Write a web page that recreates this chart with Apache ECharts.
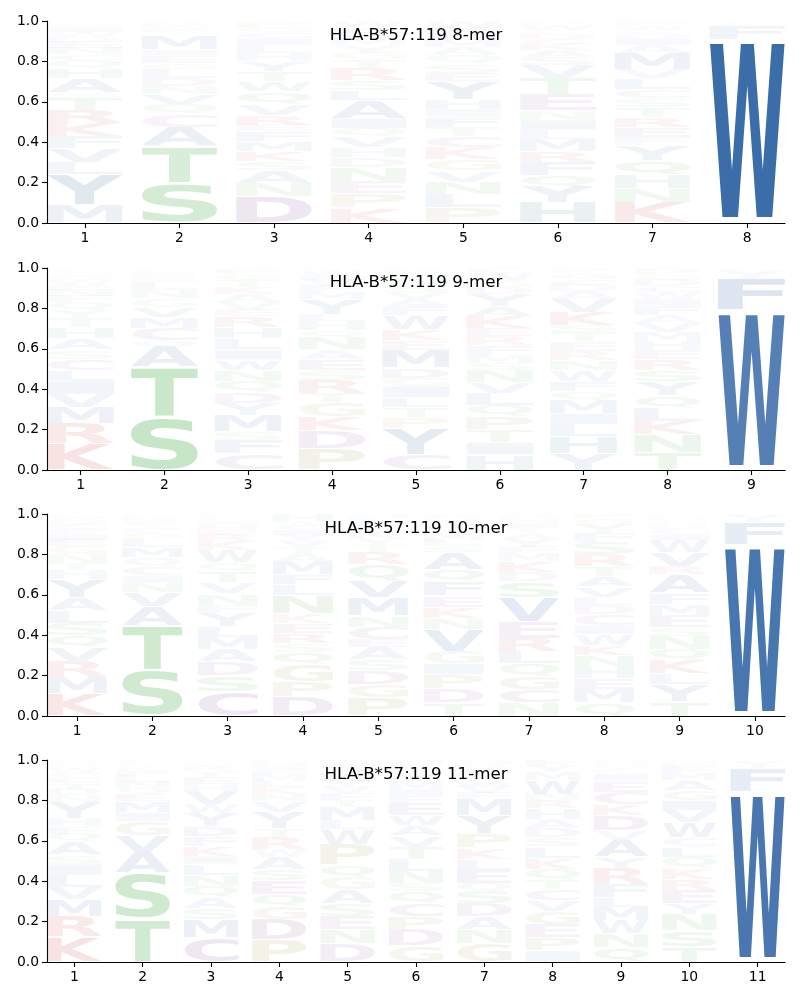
<!DOCTYPE html>
<html><head><meta charset="utf-8">
<script src="https://cdn.jsdelivr.net/npm/echarts@6/dist/echarts.min.js"></script>
<style>html,body{margin:0;padding:0;background:#fff}#chart{width:800px;height:1000px}</style>
</head><body><div id="chart"></div>
<script>
// ---------- DATA ----------
const titles = ["HLA-B*57:119 8-mer", "HLA-B*57:119 9-mer", "HLA-B*57:119 10-mer", "HLA-B*57:119 11-mer"];
const yTicks = [0, 0.2, 0.4, 0.6, 0.8, 1.0];

const positions8 = [1, 2, 3, 4, 5, 6, 7, 8];
const letters8 = ["MYLVFKRTSAHQCNEDWIGP", "STACQVNDLGEIMYFWKRHP", "DNASKMFERVQWTYHLICGP", "KPENDHVQIALSRTGYMFCW",
                  "PLNVGKCTFIHYESQAMDRW", "HYQFRMLINETVSAKCDGWP", "KNHQYFERTSCLVMAIDGWP", "WFYL"];
const probs8 = [
  [.09, .15, .06, .07, .06, .065, .065, .06, .025, .07, .05, .04, .03, .03, .03, .025, .025, .025, .02, .01],
  [.2, .18, .095, .063, .05, .05, .04, .04, .045, .03, .035, .03, .07, .015, .015, .012, .01, .01, .005, .005],
  [.13, .065, .065, .045, .05, .05, .05, .03, .05, .055, .06, .05, .05, .05, .04, .04, .035, .03, .025, .03],
  [.075, .07, .063, .07, .045, .05, .055, .04, .05, .09, .05, .05, .06, .04, .035, .035, .03, .03, .03, .032],
  [.075, .065, .063, .055, .055, .06, .055, .045, .05, .04, .05, .09, .04, .045, .04, .04, .035, .03, .032, .035],
  [.10, .08, .055, .065, .055, .06, .045, .05, .045, .08, .08, .065, .04, .035, .03, .025, .025, .02, .025, .02],
  [.10, .07, .07, .07, .075, .04, .05, .05, .05, .04, .045, .055, .045, .08, .04, .035, .02, .02, .02, .025],
  [.91, .07, .015, .005]
];

const positions9 = [1, 2, 3, 4, 5, 6, 7, 8, 9];
const letters9 = ["KRMVILCSAHTYQFNEWDGP", "STAQCMVGNLIFEYKRD", "CFSMYDQNWILHREVAKTGP", "PDKGTRSEANQHLYMFVIWC",
                  "CYPTLIGDMEKWFAVSNQRH", "HITPQLVNSMFREKAYDGWC", "YHLIMQFWNRETSKVADCGP", "TNKLQYSREHMVAFIWCDGP", "WFYLM"];
const probs9 = [
  [.13, .1, .08, .065, .065, .055, .055, .045, .055, .055, .045, .04, .04, .03, .03, .025, .025, .02, .02, .02],
  [.26, .25, .1, .03, .06, .055, .05, .045, .04, .04, .02, .015, .01, .01, .005, .005, .005],
  [.08, .065, .045, .08, .06, .055, .055, .055, .05, .05, .055, .055, .055, .03, .04, .04, .035, .035, .03, .03],
  [.105, .09, .07, .07, .045, .065, .05, .055, .045, .06, .035, .045, .035, .075, .035, .03, .03, .025, .025, .01],
  [.075, .13, .055, .05, .05, .055, .04, .05, .09, .045, .055, .07, .045, .035, .035, .035, .03, .025, .02, .01],
  [.075, .06, .065, .065, .055, .06, .055, .06, .035, .04, .045, .045, .04, .06, .05, .06, .035, .03, .04, .025],
  [.08, .085, .06, .055, .065, .045, .05, .055, .05, .045, .045, .045, .035, .065, .065, .04, .03, .03, .03, .025],
  [.085, .09, .068, .065, .06, .07, .055, .055, .045, .045, .045, .045, .04, .045, .035, .03, .03, .03, .025, .037],
  [.79, .155, .04, .01, .005]
];

const positions10 = [1, 2, 3, 4, 5, 6, 7, 8, 9, 10];
const letters10 = ["KMRVQSLAYHTNGEIFCDWP", "STAVNICQMLGFYEDKRH", "CSDAMLYFNVTQWKREHIGP", "DPGQSREKNLFMATVYICWH",
                   "PGDSAECNMVQRTYKLIFHW", "TDPIGVNKEFQASLMYRCHW", "NCGQLREVSDKMFYATIHPW", "QMEHNKWICDLVATRSFYGP",
                   "TYLKQNSEMFARVWICDGHP", "WFYL"];
const probs10 = [
  [.11, .08, .08, .07, .06, .06, .06, .065, .09, .045, .035, .045, .04, .03, .03, .025, .025, .02, .02, .01],
  [.225, .22, .095, .07, .05, .035, .045, .045, .05, .045, .03, .02, .02, .015, .01, .01, .008, .007],
  [.12, .08, .07, .06, .06, .055, .065, .04, .055, .055, .055, .045, .06, .045, .03, .025, .025, .02, .015, .02],
  [.095, .075, .085, .06, .045, .05, .05, .045, .09, .055, .05, .065, .035, .035, .03, .03, .025, .025, .02, .035],
  [.09, .065, .07, .055, .06, .04, .06, .055, .09, .085, .08, .06, .035, .035, .03, .03, .025, .02, .01, .005],
  [.065, .07, .07, .055, .06, .11, .055, .055, .055, .07, .06, .085, .03, .03, .03, .025, .025, .02, .015, .015],
  [.065, .065, .065, .065, .06, .065, .08, .12, .08, .045, .055, .04, .03, .04, .03, .025, .025, .02, .02, .015],
  [.065, .065, .055, .06, .055, .05, .055, .045, .055, .045, .04, .05, .05, .05, .06, .06, .045, .045, .03, .03],
  [.07, .085, .055, .065, .055, .065, .045, .06, .055, .055, .09, .04, .07, .06, .03, .025, .02, .02, .015, .02],
  [.85, .11, .03, .01]
];

const positions11 = [1, 2, 3, 4, 5, 6, 7, 8, 9, 10, 11];
const letters11 = ["KRMVLISAQFHYNDTECWGP", "TSAVGIMEQNLFKYRCD", "CMSAQNLIKFDYWVHETRGP", "PDGQESAWRTYVNKLMFIHC",
                   "DNESAGQPWLMTFVYKIRHC", "GDPCQSNLTVAWEFIMYKRH", "GNADSQELKPYMFVIWTCRH", "IPEGVCTQKLSDAHRNWMYF",
                   "QNWMLFRYAVDKCEISTGHP", "TSNYERKQLCWVIGAMFDHP", "WFYL"];
const probs11 = [
  [.125, .1, .085, .06, .06, .055, .045, .065, .04, .035, .04, .08, .035, .03, .03, .025, .025, .025, .02, .02],
  [.215, .225, .1, .085, .07, .045, .055, .035, .03, .03, .03, .025, .02, .015, .005, .01, .005],
  [.12, .09, .055, .055, .055, .055, .055, .04, .05, .045, .05, .065, .045, .065, .035, .035, .03, .025, .02, .01],
  [.11, .1, .065, .06, .07, .055, .06, .04, .06, .04, .08, .055, .035, .035, .03, .03, .025, .02, .02, .01],
  [.09, .07, .065, .065, .07, .06, .06, .1, .075, .045, .065, .035, .035, .03, .03, .03, .025, .02, .015, .015],
  [.08, .08, .065, .065, .06, .04, .06, .06, .06, .055, .05, .05, .06, .035, .035, .04, .04, .025, .02, .02],
  [.09, .07, .065, .065, .06, .04, .065, .055, .055, .07, .09, .08, .03, .03, .025, .025, .025, .02, .02, .02],
  [.055, .065, .065, .065, .055, .055, .045, .055, .055, .055, .045, .045, .045, .055, .04, .03, .07, .04, .03, .03],
  [.07, .07, .065, .065, .05, .065, .08, .055, .085, .045, .075, .055, .06, .055, .035, .02, .015, .015, .01, .01],
  [.075, .08, .08, .055, .065, .055, .055, .055, .05, .045, .075, .06, .05, .05, .05, .035, .03, .015, .01, .01],
  [.845, .115, .035, .005]
];

// ---------- STYLE ----------
const colorOf = {
  A: [40, 94, 161], V: [40, 94, 161], L: [40, 94, 161], I: [40, 94, 161], M: [40, 94, 161], F: [40, 94, 161], W: [40, 94, 161],
  Y: [45, 105, 150],
  S: [40, 160, 40], T: [40, 160, 40], N: [40, 160, 40], Q: [40, 160, 40],
  K: [200, 35, 35], R: [200, 35, 35],
  D: [120, 60, 140], E: [120, 60, 140], C: [120, 60, 140],
  P: [140, 135, 40], G: [140, 135, 40],
  H: [40, 120, 130]
};
const FONT = 'bold 100px "DejaVu Sans"';
const measureCtx = document.createElement('canvas').getContext('2d');
measureCtx.font = FONT;
measureCtx.textBaseline = 'middle';
measureCtx.textAlign = 'left';
const glyphBox = {};
Object.keys(colorOf).forEach(ch => {
  const m = measureCtx.measureText(ch);
  glyphBox[ch] = {l: m.actualBoundingBoxLeft, r: m.actualBoundingBoxRight, a: m.actualBoundingBoxAscent, d: m.actualBoundingBoxDescent};
});
const ALPHABET = Object.keys(colorOf).sort().join('');
const VPAD = 0.06, HALFW = 0.4;

const panels = [
  {pos: positions8, letters: letters8, probs: probs8},
  {pos: positions9, letters: letters9, probs: probs9},
  {pos: positions10, letters: letters10, probs: probs10},
  {pos: positions11, letters: letters11, probs: probs11}
];
const tops = [21, 268, 514, 760];
const GH = 202;

function renderLetter(params, api) {
  const pos = api.value(0), base = api.value(1), top = api.value(2);
  const ch = ALPHABET[api.value(3)], p = api.value(4);
  const p0 = api.coord([pos - HALFW, top]);
  const p1 = api.coord([pos + HALFW, base]);
  const h = p1[1] - p0[1];
  const pad = h * VPAD / 2;
  const y0 = p0[1] + pad, y1 = p1[1] - pad;
  const g = glyphBox[ch];
  const sx = (p1[0] - p0[0]) / (g.l + g.r);
  const sy = (y1 - y0) / (g.a + g.d);
  const c = colorOf[ch];
  const alpha = Math.min(1, p);
  return {
    type: 'text',
    x: p0[0] + sx * g.l,
    y: y0 + sy * g.a,
    scaleX: sx, scaleY: sy,
    silent: true,
    style: {
      legacy: false,
      text: ch, font: FONT,
      fill: 'rgba(' + c[0] + ',' + c[1] + ',' + c[2] + ',' + alpha.toFixed(3) + ')',
      align: 'left', verticalAlign: 'middle',
      textAlign: 'left', textVerticalAlign: 'middle'
    }
  };
}

const grid = [], xAxis = [], yAxis = [], series = [], title = [];
panels.forEach((pn, k) => {
  const n = pn.pos.length;
  grid.push({left: 47, width: 738, top: tops[k], height: GH});
  title.push({
    text: titles[k], left: 416, top: tops[k] + 6, textAlign: 'center', padding: 0,
    textStyle: {fontFamily: 'DejaVu Sans', fontSize: 16.7, fontWeight: 'normal', color: '#000'}
  });
  xAxis.push({
    type: 'value', gridIndex: k, min: 0.6, max: n + 0.4,
    axisLine: {show: true, onZero: false, lineStyle: {color: '#000', width: 1.1}},
    axisTick: {show: true, length: 5, customValues: pn.pos, lineStyle: {color: '#000', width: 1.1}},
    axisLabel: {show: true, customValues: pn.pos, margin: 8, color: '#000', fontFamily: 'DejaVu Sans', fontSize: 13.9},
    splitLine: {show: false}
  });
  yAxis.push({
    type: 'value', gridIndex: k, min: 0, max: 1, interval: 0.2,
    axisLine: {show: true, lineStyle: {color: '#000', width: 1.1}},
    axisTick: {show: true, length: 5, lineStyle: {color: '#000', width: 1.1}},
    axisLabel: {show: true, margin: 8, color: '#000', fontFamily: 'DejaVu Sans', fontSize: 13.9, formatter: v => v.toFixed(1)},
    splitLine: {show: false}
  });
  const data = [];
  pn.pos.forEach((x, i) => {
    let cum = 0;
    const L = pn.letters[i], P = pn.probs[i];
    for (let j = 0; j < L.length; j++) {
      const b = cum; cum += P[j];
      data.push([x, b, cum, ALPHABET.indexOf(L[j]), P[j]]);
    }
  });
  series.push({
    type: 'custom', xAxisIndex: k, yAxisIndex: k, renderItem: renderLetter,
    data: data, clip: true, silent: true, animation: false,
    encode: {x: 0, y: [1, 2]}
  });
});

const chart = echarts.init(document.getElementById('chart'), null, {renderer: 'canvas'});
chart.setOption({backgroundColor: '#fff', animation: false, title, grid, xAxis, yAxis, series});
</script>
</body></html>
